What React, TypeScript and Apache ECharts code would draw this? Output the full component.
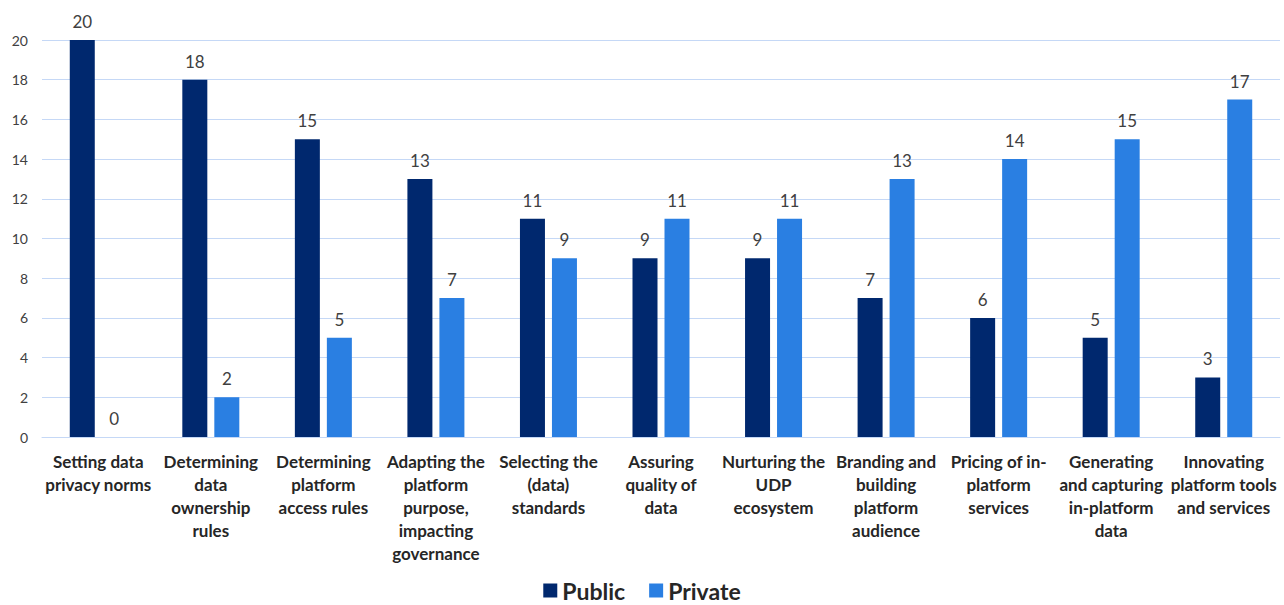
import React, { useEffect, useRef } from "react";
import * as echarts from "echarts";

const categories = [
  "Setting data\nprivacy norms",
  "Determining\ndata\nownership\nrules",
  "Determining\nplatform\naccess rules",
  "Adapting the\nplatform\npurpose,\nimpacting\ngovernance",
  "Selecting the\n(data)\nstandards",
  "Assuring\nquality of\ndata",
  "Nurturing the\nUDP\necosystem",
  "Branding and\nbuilding\nplatform\naudience",
  "Pricing of in-\nplatform\nservices",
  "Generating\nand capturing\nin-platform\ndata",
  "Innovating\nplatform tools\nand services",
];
const publicValues = [20, 18, 15, 13, 11, 9, 9, 7, 6, 5, 3];
const privateValues = [0, 2, 5, 7, 9, 11, 11, 13, 14, 15, 17];

const FONT = "Lato, 'Open Sans', sans-serif";

export default function App() {
  const ref = useRef<HTMLDivElement>(null);
  useEffect(() => {
    document.body.style.margin = "0";
    const chart = echarts.init(ref.current!, null, { renderer: "svg" });
    chart.setOption({
      animation: false,
      textStyle: { fontFamily: FONT },
      grid: { left: 42, right: 4, top: 40, bottom: 168, outerBoundsMode: "none", containLabel: false },
      legend: {
        bottom: 3,
        left: "center",
        padding: [0, 5, 0, 5],
        itemWidth: 14,
        itemHeight: 14,
        itemGap: 24,
        icon: "rect",
        textStyle: { fontSize: 23, lineHeight: 23, fontWeight: "bold", color: "#262626", fontFamily: FONT },
        data: ["Public", "Private"],
      },
      xAxis: {
        type: "category",
        data: categories,
        axisLine: { show: true, lineStyle: { color: "#C5D8F6" } },
        axisTick: { show: false },
        axisLabel: {
          interval: 0,
          fontSize: 17,
          fontWeight: "bold",
          color: "#262626",
          lineHeight: 23,
          margin: 13,
          fontFamily: FONT,
        },
      },
      yAxis: {
        type: "value",
        min: 0,
        max: 20,
        interval: 2,
        axisLine: { show: false },
        axisTick: { show: false },
        splitLine: { lineStyle: { color: "#C5D8F6", width: 1 } },
        axisLabel: { fontSize: 14, color: "#404040", margin: 14, fontFamily: FONT },
      },
      series: [
        {
          name: "Public",
          type: "bar",
          data: publicValues,
          barWidth: 25,
          barGap: "28%",
          itemStyle: { color: "#00286E" },
          label: { show: true, position: "top", distance: 10, fontSize: 17, color: "#404040", fontFamily: FONT },
        },
        {
          name: "Private",
          type: "bar",
          data: privateValues,
          barWidth: 25,
          itemStyle: { color: "#2A7FE2" },
          label: { show: true, position: "top", distance: 10, fontSize: 17, color: "#404040", fontFamily: FONT },
        },
      ],
    });
    return () => chart.dispose();
  }, []);
  return <div ref={ref} style={{ width: 1284, height: 605 }} />;
}
